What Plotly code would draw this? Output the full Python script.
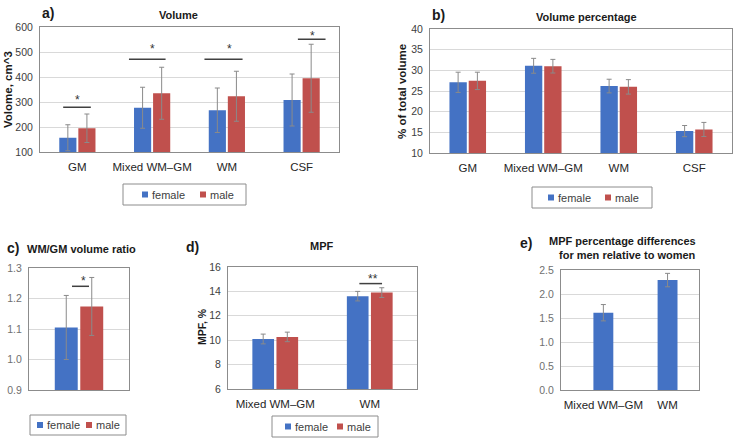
import plotly.graph_objects as go

W, H = 739, 444
BLUE = "#4472C4"
RED = "#C0504D"
FONT = "Arial, Liberation Sans, sans-serif"

# ---------------- data ----------------
cats_a = ["GM", "Mixed WM\u2013GM", "WM", "CSF"]
vol_female = [157, 277, 267, 308]
vol_male = [195, 335, 323, 395]
vol_female_sd = [52, 82, 89, 104]
vol_male_sd = [57, 104, 100, 136]

cats_b = ["GM", "Mixed WM\u2013GM", "WM", "CSF"]
pct_female = [27.1, 31.1, 26.2, 15.3]
pct_male = [27.45, 31.0, 26.0, 15.7]
pct_female_sd = [2.45, 1.8, 1.65, 1.35]
pct_male_sd = [2.1, 1.65, 1.75, 1.7]

cats_c = ["WM/GM"]
ratio_female = [1.105]
ratio_male = [1.174]
ratio_female_sd = [0.105]
ratio_male_sd = [0.095]

cats_d = ["Mixed WM\u2013GM", "WM"]
mpf_female = [10.1, 13.61]
mpf_male = [10.27, 13.9]
mpf_female_sd = [0.4, 0.39]
mpf_male_sd = [0.39, 0.4]

cats_e = ["Mixed WM\u2013GM", "WM"]
mpf_diff = [1.61, 2.29]
mpf_diff_sd = [0.17, 0.14]

series_names = ["female", "male"]


def px(x):
    return x / W


def py(y):
    return 1 - y / H


fig = go.Figure()

ERR = dict(type="data", color="#8a8a8a", thickness=1, width=2.5)


def add_pair(xa, ya, cats, f, m, fsd, msd):
    fig.add_trace(go.Bar(x=cats, y=f, name=series_names[0], marker_color=BLUE,
                         error_y=dict(array=fsd, **ERR), xaxis=xa, yaxis=ya,
                         showlegend=False))
    fig.add_trace(go.Bar(x=cats, y=m, name=series_names[1], marker_color=RED,
                         error_y=dict(array=msd, **ERR), xaxis=xa, yaxis=ya,
                         showlegend=False))


add_pair("x", "y", cats_a, vol_female, vol_male, vol_female_sd, vol_male_sd)
add_pair("x2", "y2", cats_b, pct_female, pct_male, pct_female_sd, pct_male_sd)
add_pair("x3", "y3", cats_c, ratio_female, ratio_male, ratio_female_sd, ratio_male_sd)
add_pair("x4", "y4", cats_d, mpf_female, mpf_male, mpf_female_sd, mpf_male_sd)
fig.add_trace(go.Bar(x=cats_e, y=mpf_diff, name="difference", marker_color=BLUE,
                     error_y=dict(array=mpf_diff_sd, **ERR), xaxis="x5", yaxis="y5",
                     width=0.31, showlegend=False))

GRID = "#d9d9d9"
BORDER = "#8c8c8c"


def yax(domain, rng, dtick, anchor, color="#404040", fmt=None):
    d = dict(domain=domain, range=rng, dtick=dtick, anchor=anchor, automargin=False,
             showgrid=True, gridcolor=GRID, gridwidth=1, zeroline=False,
             showline=True, linecolor=BORDER, linewidth=1, mirror=True,
             ticks="outside", ticklen=4, tickcolor="rgba(0,0,0,0)",
             tickfont=dict(family=FONT, size=10.5, color=color), fixedrange=True)
    if fmt:
        d["tickformat"] = fmt
    return d


def xax(domain, rng, anchor, show=True):
    return dict(domain=domain, range=rng, anchor=anchor, type="category", automargin=False,
                showgrid=False, zeroline=False, showline=True, linecolor=BORDER,
                linewidth=1, mirror=True, ticks="outside", ticklen=4,
                tickcolor="rgba(0,0,0,0)", showticklabels=show,
                tickfont=dict(family=FONT, size=11.5, color="#262626"), fixedrange=True)


fig.update_layout(
    template="none",
    width=W, height=H, margin=dict(l=0, r=0, t=0, b=0, pad=0, autoexpand=False),
    paper_bgcolor="white", plot_bgcolor="white",
    barmode="group", bargap=0.49, bargroupgap=0.1,
    showlegend=False,
    xaxis=xax([px(40), px(339)], [-0.5, 3.5], "y"),
    yaxis=yax([py(152), py(27)], [100, 600], 100, "x"),
    xaxis2=xax([px(430), px(732)], [-0.5, 3.5], "y2"),
    yaxis2=yax([py(153), py(29)], [10, 40], 5, "x2"),
    xaxis3=xax([px(29), px(129)], [-0.5, 0.5], "y3", show=False),
    yaxis3=yax([py(390), py(268)], [0.9, 1.3], 0.1, "x3", color="#707070", fmt=".1f"),
    xaxis4=xax([px(228), px(417)], [-0.5, 1.5], "y4"),
    yaxis4=yax([py(389), py(267)], [6, 16], 2, "x4"),
    xaxis5=xax([px(561), px(699)], [-0.66, 1.49], "y5"),
    yaxis5=yax([py(390), py(270)], [0, 2.5], 0.5, "x5", color="#707070", fmt=".1f"),
)

shapes = []
annots = []


def text(x, y, s, size=11, bold=False, color="#1a1a1a", xanchor="center", angle=0):
    annots.append(dict(x=px(x), y=py(y), xref="paper", yref="paper",
                       text=f"<b>{s}</b>" if bold else s, showarrow=False,
                       xanchor=xanchor, yanchor="middle", textangle=angle,
                       font=dict(family=FONT, size=size, color=color)))


# panel labels and titles
text(40, 13, "a)", size=14, bold=True, xanchor="left")
text(178, 15, "Volume", size=11, bold=True)
text(430, 15, "b)", size=14, bold=True, xanchor="left")
text(586, 17, "Volume percentage", size=11, bold=True)
text(5, 248, "c)", size=14, bold=True, xanchor="left")
text(25, 249, "WM/GM volume ratio", size=11, bold=True, xanchor="left")
text(184, 247, "d)", size=14, bold=True, xanchor="left")
text(322, 246, "MPF", size=11, bold=True)
text(518, 243, "e)", size=14, bold=True, xanchor="left")
text(622, 241, "MPF percentage differences", size=11, bold=True)
text(627, 255, "for men relative to women", size=11, bold=True)

# y-axis titles
text(8, 90, "Volome, cm^3", size=11.5, bold=True, angle=-90)
text(402, 91, "% of total volume", size=11.5, bold=True, angle=-90)
text(202, 327, "MPF, %", size=10.5, bold=True, angle=-90)


# significance markers (category index + offset, value)
def sig(xa, ya, cat_idx, x0, x1, yline, xstar, ystar, label="*"):
    shapes.append(dict(type="line", xref=xa, yref=ya, x0=cat_idx + x0, x1=cat_idx + x1,
                       y0=yline, y1=yline, line=dict(color="#404040", width=1.5)))
    annots.append(dict(x=cat_idx + xstar, y=ystar, xref=xa, yref=ya, text=label,
                       showarrow=False, xanchor="center", yanchor="middle",
                       font=dict(family=FONT, size=12, color="#333333"), yshift=-3))


sig("x", "y", 0, -0.19, 0.18, 279, 0.0, 321)
sig("x", "y", 1, -0.31, 0.18, 471, 0.0, 524)
sig("x", "y", 2, -0.30, 0.21, 471, 0.04, 524)
sig("x", "y", 3, -0.05, 0.32, 551, 0.14, 575)
sig("x3", "y3", 0, -0.07, 0.10, 1.24, 0.04, 1.266)
sig("x4", "y4", 1, -0.11, 0.13, 14.64, 0.03, 15.27, "**")


# legends
def legend(x0, x1, y0, y1, sqf, sqm):
    shapes.append(dict(type="rect", xref="paper", yref="paper", x0=px(x0), x1=px(x1),
                       y0=py(y1), y1=py(y0), line=dict(color="#8c8c8c", width=1),
                       fillcolor="rgba(0,0,0,0)"))
    ym = (y0 + y1) / 2
    for sx, col, name in ((sqf, BLUE, series_names[0]), (sqm, RED, series_names[1])):
        shapes.append(dict(type="rect", xref="paper", yref="paper", x0=px(sx), x1=px(sx + 6),
                           y0=py(ym + 3), y1=py(ym - 3), line=dict(width=0), fillcolor=col))
        text(sx + 8, ym, name, size=11, color="#404040", xanchor="left")


legend(123, 246, 184, 205, 142, 200)
legend(532, 652, 187, 208, 548, 605)
legend(30, 126, 415, 435, 37, 86)
legend(272, 378, 416, 437, 285, 337)

fig.update_layout(shapes=shapes, annotations=annots)
fig.write_html(
    "out.html",
    config={"displayModeBar": False},
    post_script="document.body.style.margin='0';document.body.style.padding='0';"
                "document.body.style.overflow='hidden';",
)
